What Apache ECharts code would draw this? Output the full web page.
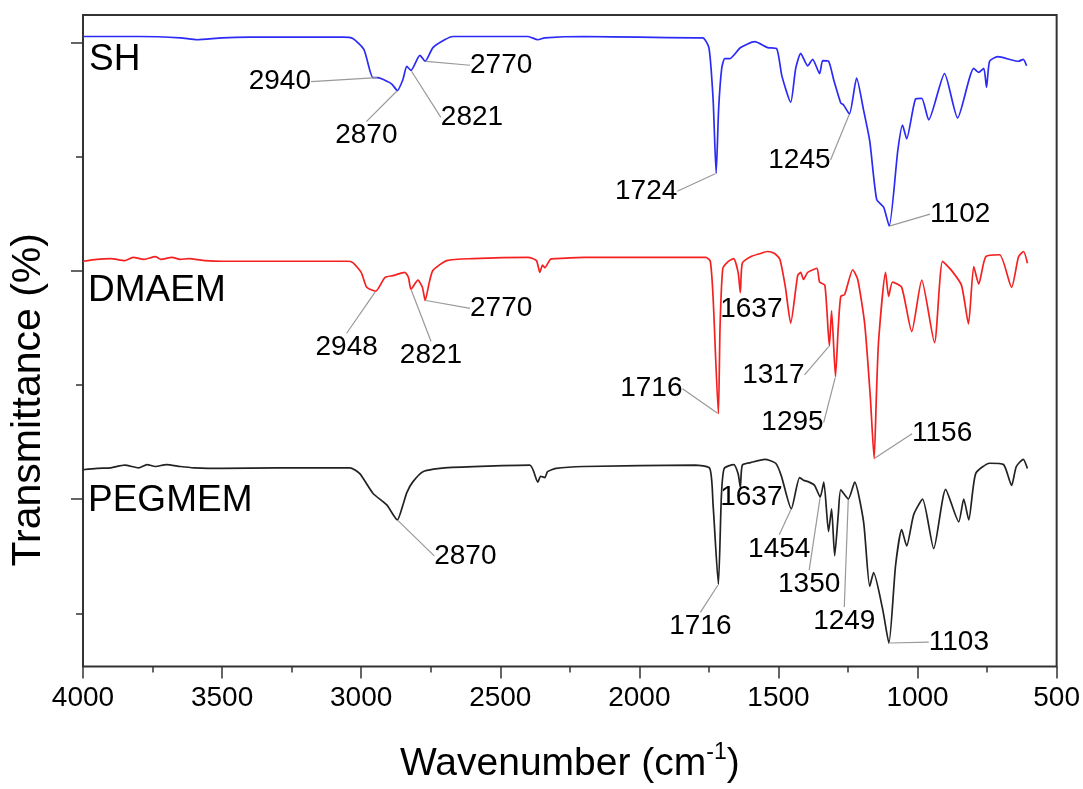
<!DOCTYPE html>
<html>
<head>
<meta charset="utf-8">
<title>FTIR spectra</title>
<script src="https://cdn.jsdelivr.net/npm/echarts@6/dist/echarts.min.js"></script>
<style>
  html, body { margin: 0; padding: 0; background: #fff; }
  #chart { width: 1083px; height: 789px; }
</style>
</head>
<body>
<div id="chart"></div>
<script>
// spectra: [wavenumber, transmittance (offset, a.u.)]
const shData = [
  [4000, 96.7], [3800, 96.7], [3650, 96.5], [3590, 96.2], [3500, 96.5], [3400, 96.6], [3066, 96.6],
  [3030, 96.4], [2990, 94.7], [2958, 90.4], [2940, 90.4], [2920, 90.1], [2890, 89.4], [2870, 88.4],
  [2850, 90.1], [2836, 92.1], [2821, 91.5], [2789, 93.8], [2770, 92.9], [2742, 95.0], [2700, 96.2],
  [2670, 96.7], [2400, 96.7], [2365, 96.2], [2340, 96.5], [2200, 96.7], [2000, 96.6], [1800, 96.5],
  [1772, 96.5], [1750, 95.0], [1735, 87.1], [1724, 75.7], [1715, 85.6], [1704, 91.8], [1693, 93.3],
  [1675, 93.3], [1636, 95.0], [1585, 95.9], [1539, 95.0], [1506, 94.8], [1488, 90.7], [1456, 86.6],
  [1438, 91.8], [1420, 94.1], [1395, 92.2], [1377, 93.2], [1352, 91.0], [1341, 93.0], [1320, 92.9],
  [1301, 90.0], [1276, 86.5], [1266, 86.2], [1245, 84.8], [1219, 90.3], [1194, 85.4], [1172, 80.7],
  [1147, 71.7], [1122, 70.5], [1102, 67.6], [1071, 79.2], [1054, 83.1], [1039, 81.0], [1007, 87.1],
  [985, 87.2], [960, 83.9], [903, 91.0], [856, 84.2], [798, 91.8], [780, 91.2], [762, 91.8],
  [752, 88.9], [741, 92.9], [712, 93.6], [637, 92.9], [620, 93.2], [608, 92.2]
];

const dmaemData = [
  [4000, 62.2], [3950, 62.5], [3900, 62.6], [3850, 62.3], [3820, 62.8], [3780, 62.5], [3740, 62.9],
  [3720, 62.5], [3680, 62.8], [3650, 62.5], [3620, 62.6], [3560, 62.3], [3500, 62.2], [3300, 62.2],
  [3051, 62.2], [3030, 62.0], [3000, 60.5], [2980, 58.2], [2948, 57.6], [2915, 59.7], [2886, 60.0],
  [2843, 60.5], [2830, 59.7], [2821, 57.9], [2796, 59.3], [2780, 58.2], [2770, 56.2], [2755, 59.0],
  [2742, 60.8], [2692, 62.3], [2600, 62.6], [2400, 62.8], [2370, 62.3], [2358, 60.5], [2348, 61.6],
  [2340, 61.2], [2320, 62.5], [2300, 62.6], [2200, 62.8], [1800, 62.8], [1761, 62.8], [1745, 62.2],
  [1735, 56.7], [1716, 38.8], [1710, 52.1], [1700, 61.1], [1680, 62.2], [1661, 62.6], [1645, 60.5],
  [1637, 57.4], [1630, 61.9], [1600, 62.9], [1564, 63.4], [1540, 63.7], [1514, 63.4], [1495, 62.5],
  [1475, 58.2], [1456, 52.7], [1431, 60.0], [1420, 60.5], [1410, 59.4], [1395, 60.5], [1362, 61.1],
  [1352, 59.0], [1333, 58.5], [1317, 49.2], [1309, 54.6], [1295, 44.5], [1285, 52.1], [1276, 56.8],
  [1262, 57.1], [1233, 60.9], [1215, 59.4], [1190, 52.6], [1170, 41.5], [1156, 31.9], [1148, 41.5],
  [1140, 50.0], [1115, 60.5], [1104, 56.8], [1090, 59.0], [1057, 58.2], [1021, 51.4], [985, 59.3],
  [939, 49.7], [910, 62.2], [878, 60.8], [842, 58.5], [817, 52.6], [798, 61.4], [780, 58.7],
  [755, 62.9], [705, 63.2], [662, 58.2], [637, 62.9], [619, 63.7], [605, 61.9]
];

const pegmemData = [
  [4000, 30.2], [3950, 30.4], [3900, 30.5], [3850, 30.9], [3800, 30.5], [3770, 31.0], [3740, 30.7],
  [3700, 31.0], [3650, 30.7], [3600, 30.5], [3500, 30.4], [3300, 30.5], [3041, 30.5], [3005, 29.6],
  [2958, 26.6], [2908, 24.8], [2870, 22.5], [2850, 24.8], [2836, 26.7], [2815, 28.3], [2778, 29.9],
  [2700, 30.5], [2394, 30.9], [2365, 28.3], [2355, 29.2], [2340, 29.0], [2330, 29.9], [2300, 30.4],
  [2200, 30.7], [1800, 30.9], [1747, 30.4], [1735, 24.8], [1716, 12.6], [1705, 26.3], [1695, 30.4],
  [1661, 31.0], [1645, 29.6], [1637, 27.5], [1630, 30.9], [1600, 31.3], [1549, 31.8], [1510, 31.2],
  [1490, 29.3], [1454, 24.2], [1424, 29.0], [1410, 28.6], [1390, 28.3], [1370, 27.8], [1350, 26.0],
  [1337, 28.3], [1320, 20.7], [1309, 24.2], [1298, 17.0], [1285, 23.3], [1276, 27.1], [1249, 25.7],
  [1226, 28.3], [1194, 22.2], [1172, 12.3], [1158, 14.4], [1125, 8.7], [1103, 3.6], [1079, 15.5],
  [1057, 21.0], [1039, 18.5], [1014, 23.3], [982, 25.7], [942, 18.1], [899, 27.2], [852, 22.2],
  [834, 25.7], [816, 22.5], [791, 29.6], [741, 31.2], [691, 31.0], [662, 27.8], [645, 30.7],
  [620, 31.8], [605, 30.4]
];

// labelled peaks [wavenumber, transmittance]
const shPeaks = [[2940, 90.4], [2870, 88.4], [2821, 91.5], [2770, 92.9], [1724, 75.7], [1245, 84.8], [1102, 67.6]];
const dmaemPeaks = [[2948, 57.6], [2821, 57.9], [2770, 56.2], [1716, 38.8], [1637, 57.4], [1317, 49.2], [1295, 44.5], [1156, 31.9]];
const pegmemPeaks = [[2870, 22.5], [1716, 12.6], [1637, 27.5], [1454, 24.2], [1350, 26.0], [1249, 25.7], [1103, 3.6]];

// label placement (pixel offsets from the peak), layout only
const shOffsets = [[-98, 4], [-31, 45], [61, 47], [76, 4], [-70, 18], [-50, 46], [71, -12]];
const dmaemOffsets = [[-29, 56], [20, 66], [76, 8], [-67, -25], [11, 17], [-56, 29], [-43, 46], [68, -25]];
const pegmemOffsets = [[68, 36], [-18, 42], [11, 10], [-12, 40], [-11, 87], [-4, 122], [70, -1]];

const yMajorTicks = [25.7, 60.8, 95.7];
const yMinorTicks = [8.05, 43.2, 78.3];

const FONT = 'Arial, "Liberation Sans", sans-serif';

const chart = echarts.init(document.getElementById('chart'));

function spectrum(name, data, color) {
  return {
    name: name,
    type: 'line',
    data: data,
    showSymbol: false,
    symbol: 'none',
    smooth: 0.2,
    lineStyle: { color: color, width: 1.7 },
    z: 3,
    silent: true
  };
}

function peakLabels(peaks, offsets) {
  return {
    type: 'scatter',
    data: peaks.map(function (p) {
      return {
        value: p,
        labelLine: { show: p[0] !== 1637 }
      };
    }),
    symbolSize: 2,
    itemStyle: { color: 'rgba(0,0,0,0)', opacity: 1 },
    silent: true,
    z: 4,
    label: {
      show: true,
      position: 'inside',
      formatter: function (p) { return String(p.value[0]); },
      fontFamily: FONT,
      fontSize: 28,
      color: '#000',
      opacity: 1,
      padding: [2, 3]
    },
    labelLayout: function (params) {
      const o = offsets[params.dataIndex];
      return { dx: o[0], dy: o[1] };
    },
    labelLine: {
      show: true,
      lineStyle: { color: '#999', width: 1.2, opacity: 1 }
    }
  };
}

chart.setOption({
  animation: false,
  backgroundColor: '#fff',
  grid: {
    left: 83, right: 26, top: 15, bottom: 116,
    show: true, borderColor: '#333', borderWidth: 2,
    backgroundColor: 'transparent'
  },
  xAxis: {
    type: 'value',
    min: 500, max: 4000, interval: 500,
    inverse: true,
    axisLine: { show: false },
    axisTick: { show: true, length: 12, lineStyle: { color: '#333', width: 1.5 } },
    minorTick: { show: true, splitNumber: 2, length: 6, lineStyle: { color: '#333', width: 1.5 } },
    splitLine: { show: false },
    minorSplitLine: { show: false },
    axisLabel: {
      fontFamily: FONT, fontSize: 28, color: '#000', margin: 18,
      formatter: function (v) { return String(v); }
    },
    name: '{t|Wavenumber (cm}{s|-1}{t|)}',
    nameLocation: 'middle',
    nameGap: 75,
    nameTextStyle: {
      rich: {
        t: { fontFamily: FONT, fontSize: 39, color: '#000', lineHeight: 46 },
        s: { fontFamily: FONT, fontSize: 23, color: '#000', verticalAlign: 'top', lineHeight: 23 }
      }
    }
  },
  yAxis: [
    {
      type: 'value', min: 0, max: 100, position: 'left',
      axisLine: { show: false },
      splitLine: { show: false },
      axisLabel: { show: false },
      axisTick: { show: true, length: 12, customValues: yMajorTicks, lineStyle: { color: '#333', width: 1.5 } },
      name: 'Transmittance (%)',
      nameLocation: 'middle',
      nameGap: 34,
      nameTextStyle: { fontFamily: FONT, fontSize: 41, color: '#000', padding: [0, 118, 0, 0] }
    },
    {
      type: 'value', min: 0, max: 100, position: 'left',
      axisLine: { show: false },
      splitLine: { show: false },
      axisLabel: { show: false },
      axisTick: { show: true, length: 7, customValues: yMinorTicks, lineStyle: { color: '#333', width: 1.5 } }
    }
  ],
  graphic: [
    { type: 'text', x: 89, y: 60, style: { text: 'SH', font: '37px ' + FONT, fill: '#000', verticalAlign: 'middle' } },
    { type: 'text', x: 88, y: 291, style: { text: 'DMAEM', font: '37px ' + FONT, fill: '#000', verticalAlign: 'middle' } },
    { type: 'text', x: 88, y: 501, style: { text: 'PEGMEM', font: '37px ' + FONT, fill: '#000', verticalAlign: 'middle' } }
  ],
  series: [
    spectrum('SH', shData, '#2b2bf5'),
    spectrum('DMAEM', dmaemData, '#f52020'),
    spectrum('PEGMEM', pegmemData, '#222'),
    peakLabels(shPeaks, shOffsets),
    peakLabels(dmaemPeaks, dmaemOffsets),
    peakLabels(pegmemPeaks, pegmemOffsets)
  ]
});
</script>
</body>
</html>
